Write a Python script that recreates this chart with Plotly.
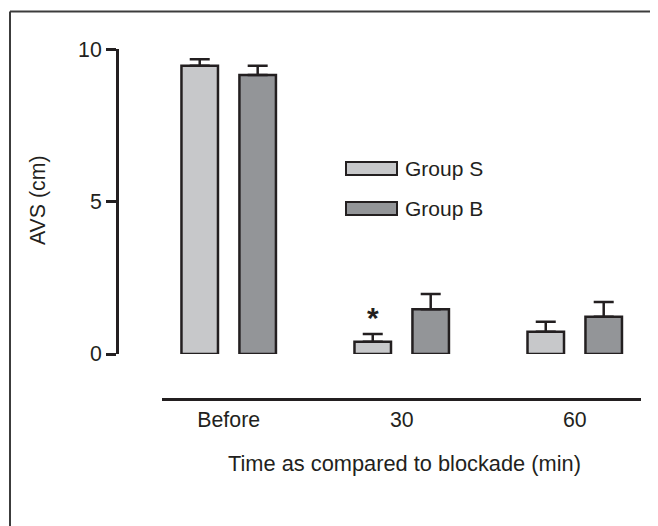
import plotly.graph_objects as go

categories = ["Before", "30", "60"]
group_s = [9.46, 0.40, 0.73]
group_s_err = [0.21, 0.26, 0.33]
group_b = [9.16, 1.47, 1.22]
group_b_err = [0.30, 0.50, 0.49]
y_ticks = [0, 5, 10]
series_names = ["Group S", "Group B"]

# page has an 8px body margin; figure sized to fill the rest of the window
OFF = 8
W, H = 658 - OFF, 526 - OFF
DARK = "#231f20"
C_S = "#c7c8ca"
C_B = "#939598"
FONT = "Liberation Sans, Arial, Helvetica, sans-serif"

def px(x):
    return (x - OFF) / W

def py(y):
    return 1 - (y - OFF) / H

fig = go.Figure()
fig.add_trace(go.Bar(
    x=categories, y=group_s, name=series_names[0],
    marker=dict(color=C_S, line=dict(color=DARK, width=2.5)),
    error_y=dict(type="data", symmetric=False, array=group_s_err,
                 arrayminus=[0] * len(group_s_err), color=DARK,
                 thickness=2.5, width=10),
    showlegend=False,
))
fig.add_trace(go.Bar(
    x=categories, y=group_b, name=series_names[1],
    marker=dict(color=C_B, line=dict(color=DARK, width=2.5)),
    error_y=dict(type="data", symmetric=False, array=group_b_err,
                 arrayminus=[0] * len(group_b_err), color=DARK,
                 thickness=2.5, width=10),
    showlegend=False,
))

fig.update_layout(
    width=W, height=H,
    margin=dict(l=0, r=0, t=0, b=0),
    paper_bgcolor="white", plot_bgcolor="white",
    barmode="group", bargap=0.33, bargroupgap=0.37,
    font=dict(family=FONT, size=21, color=DARK),
    xaxis=dict(
        domain=[px(162), px(641)],
        range=[-0.3855, 2.383],
        anchor="free", position=py(399),
        showline=True, linecolor=DARK, linewidth=3,
        ticks="", showgrid=False, zeroline=False, automargin=False,
        tickfont=dict(size=21.3, color=DARK),
    ),
    yaxis=dict(
        domain=[py(354), py(49.3)],
        range=[0, 10],
        anchor="free", position=px(117),
        showline=True, linecolor=DARK, linewidth=3,
        ticks="outside", ticklen=10, tickwidth=3, tickcolor=DARK,
        tickvals=y_ticks, ticktext=[str(v) for v in y_ticks],
        showgrid=False, zeroline=False, automargin=False,
        tickfont=dict(size=21.3, color=DARK),
    ),
    showlegend=False,
)

shapes = []
# frame (top and left edges)
shapes.append(dict(type="line", xref="paper", yref="paper",
                   x0=px(10), y0=py(11.5), x1=1, y1=py(11.5),
                   line=dict(color="#3c3c3c", width=2)))
shapes.append(dict(type="line", xref="paper", yref="paper",
                   x0=px(10), y0=py(11.5), x1=px(10), y1=0,
                   line=dict(color="#3c3c3c", width=2)))
# legend boxes
legend_items = [(series_names[0], C_S, 162, 175), (series_names[1], C_B, 202, 215)]
annotations = []
for name, col, y0, y1 in legend_items:
    shapes.append(dict(type="rect", xref="paper", yref="paper",
                       x0=px(346), x1=px(397), y0=py(y1), y1=py(y0),
                       fillcolor=col, line=dict(color=DARK, width=2)))
    annotations.append(dict(xref="paper", yref="paper", x=px(403), y=py((y0 + y1) / 2),
                            text=name, showarrow=False, xanchor="left", yanchor="middle",
                            font=dict(size=21, color=DARK)))

# axis titles
annotations.append(dict(xref="paper", yref="paper", x=px(38), y=py(200),
                        text="AVS (cm)", textangle=-90, showarrow=False,
                        xanchor="center", yanchor="middle",
                        font=dict(size=21.3, color=DARK)))
annotations.append(dict(xref="paper", yref="paper", x=px(404), y=py(463),
                        text="Time as compared to blockade (min)", showarrow=False,
                        xanchor="center", yanchor="middle",
                        font=dict(size=21.8, color=DARK)))
# significance marker
annotations.append(dict(xref="x", yref="y", x=1 - 0.1676,
                        y=group_s[1] + group_s_err[1],
                        text="<b>*</b>", showarrow=False, xanchor="center", yanchor="bottom",
                        yshift=-2, font=dict(size=30, color=DARK)))

fig.update_layout(shapes=shapes, annotations=annotations)
fig.write_html("out.html")
